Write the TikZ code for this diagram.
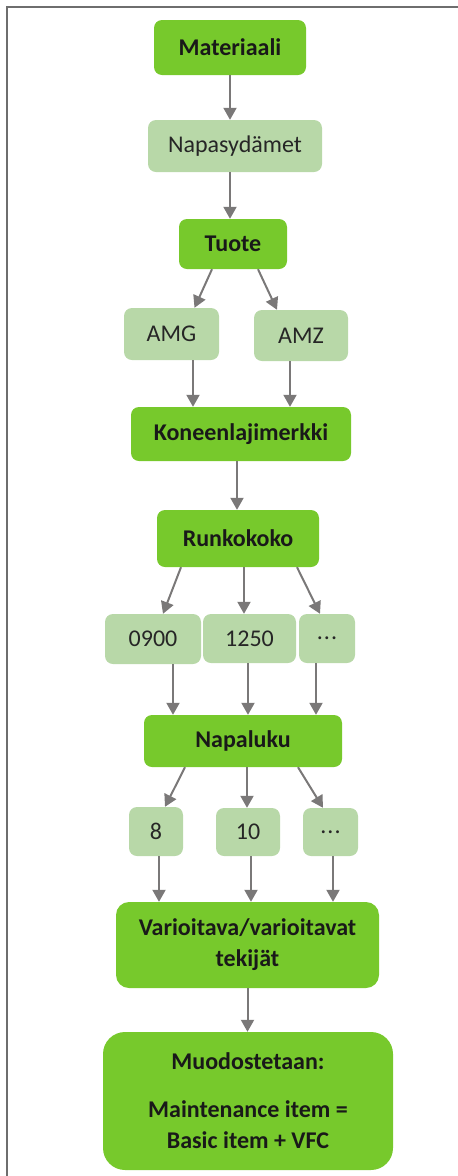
\documentclass[tikz,border=0pt]{standalone}
\usepackage{fontspec}
\setmainfont{Carlito}
\usetikzlibrary{arrows.meta}
\definecolor{dkgreen}{HTML}{77C92C}
\definecolor{ltgreen}{HTML}{B8D8A8}
\definecolor{arrgray}{HTML}{7A7878}
\definecolor{framegray}{HTML}{6E6E6E}
\tikzset{
  boxbase/.style={inner sep=0pt, align=center, rounded corners=8pt,
    font=\fontsize{24}{31}\selectfont},
  darkbox/.style={boxbase, fill=dkgreen, text=black!90, font=\fontsize{24}{31}\selectfont\bfseries},
  lightbox/.style={boxbase, fill=ltgreen, text=black!85},
  arr/.style={draw=arrgray, line width=2pt, -{Triangle[length=12pt,width=13pt]}, fill=arrgray},
}
\begin{document}
\begin{tikzpicture}[x=1pt,y=-1pt]
\useasboundingbox (0,0) rectangle (458,1176);
\draw[framegray, line width=1.5pt] (7,1176) -- (7,7) -- (458,7);

\node[darkbox, minimum width=152pt, minimum height=55pt] (mat) at (230,47.5) {Materiaali};
\node[lightbox, minimum width=174pt, minimum height=52pt] (nap) at (235,146) {Napasydämet};
\node[darkbox, minimum width=108pt, minimum height=50pt] (tuo) at (233,244) {Tuote};
\node[lightbox, minimum width=95pt, minimum height=52pt] (amg) at (171.5,334) {AMG};
\node[lightbox, minimum width=94pt, minimum height=51pt] (amz) at (301,335.5) {AMZ};
\node[darkbox, minimum width=220pt, minimum height=54pt] (kon) at (241,434) {Koneenlajimerkki};
\node[darkbox, minimum width=162pt, minimum height=57pt] (run) at (238,538.5) {Runkokoko};
\node[lightbox, minimum width=96pt, minimum height=50pt] (c09) at (153,639) {0900};
\node[lightbox, minimum width=93pt, minimum height=49pt] (c12) at (249.5,638.5) {1250};
\node[lightbox, minimum width=56pt, minimum height=49pt] (cdt) at (327,638.5) {.\kern1pt.\kern1pt.};
\node[darkbox, minimum width=198pt, minimum height=52pt] (npl) at (243,741) {Napaluku};
\node[lightbox, minimum width=54pt, minimum height=49pt] (p8) at (156,831.5) {8};
\node[lightbox, minimum width=64pt, minimum height=48pt] (p10) at (248,832) {10};
\node[lightbox, minimum width=55pt, minimum height=48pt] (pdt) at (330.5,832) {.\kern1pt.\kern1pt.};
\node[darkbox, rounded corners=13pt, minimum width=263pt, minimum height=86pt] (var) at (247.5,945) {Varioitava/varioitavat\\tekijät};
\node[darkbox, rounded corners=22pt, minimum width=290pt, minimum height=138pt] (muo) at (248,1101) {Muodostetaan:\\[17pt]Maintenance item =\\Basic item + VFC};

\draw[arr] (mat.south) -- (mat.south |- nap.north);
\draw[arr] ([xshift=-5pt]nap.south) -- ([xshift=-3pt]tuo.north);
\draw[arr] ([xshift=-21pt]tuo.south) -- ([xshift=23pt]amg.north);
\draw[arr] ([xshift=25pt]tuo.south) -- ([xshift=-24pt]amz.north);
\draw[arr] ([xshift=21.5pt]amg.south) -- ([xshift=-48pt]kon.north);
\draw[arr] ([xshift=-11pt]amz.south) -- ([xshift=49pt]kon.north);
\draw[arr] ([xshift=-4pt]kon.south) -- ([xshift=-1pt]run.north);
\draw[arr] ([xshift=-57pt]run.south) -- ([xshift=10pt]c09.north);
\draw[arr] ([xshift=6pt]run.south) -- ([xshift=-5.5pt]c12.north);
\draw[arr] ([xshift=59pt]run.south) -- ([xshift=-7pt]cdt.north);
\draw[arr] ([xshift=20pt]c09.south) -- ([xshift=-70pt]npl.north);
\draw[arr] ([xshift=-1.5pt]c12.south) -- ([xshift=5pt]npl.north);
\draw[arr] ([xshift=-11pt]cdt.south) -- ([xshift=73pt]npl.north);
\draw[arr] ([xshift=-58pt]npl.south) -- ([xshift=9pt]p8.north);
\draw[arr] ([xshift=4pt]npl.south) -- ([xshift=-1pt]p10.north);
\draw[arr] ([xshift=55pt]npl.south) -- ([xshift=-7.5pt]pdt.north);
\draw[arr] ([xshift=3pt]p8.south) -- ([xshift=-88.5pt]var.north);
\draw[arr] ([xshift=3pt]p10.south) -- ([xshift=3.5pt]var.north);
\draw[arr] ([xshift=2.5pt]pdt.south) -- ([xshift=85.5pt]var.north);
\draw[arr] (var.south) -- (var.south |- muo.north);
\end{tikzpicture}
\end{document}
